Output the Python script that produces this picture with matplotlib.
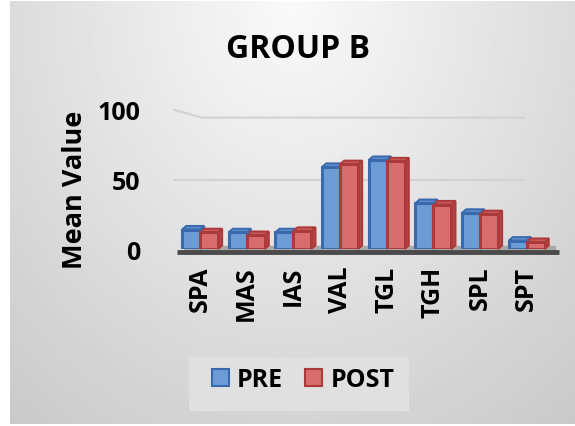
import numpy as np
import matplotlib
matplotlib.use("Agg")
import matplotlib.pyplot as plt
from matplotlib.patches import Polygon, Patch, Rectangle

plt.rcParams.update({"font.family": ["Open Sans", "DejaVu Sans"], "font.weight": "bold"})

categories = ["SPA", "MAS", "IAS", "VAL", "TGL", "TGH", "SPL", "SPT"]
pre = [14, 12, 12, 59, 64, 33, 26, 6]
post = [12, 10, 13, 61, 63, 32, 25, 5]
yticks = [0, 50, 100]

W, H = 575, 427
fig = plt.figure(figsize=(W / 100, H / 100), dpi=100)
fig.patch.set_facecolor("white")

# soft panel gradient behind everything
bg = fig.add_axes([10 / W, 2 / H, 1 - 10 / W, 1 - 4 / H], zorder=-5)
gx, gy = np.meshgrid(np.linspace(0, 1, 300), np.linspace(0, 1, 220))
r = np.sqrt(((gx - 0.5) / 0.5 * 0.8) ** 2 + gy ** 2)
shade = np.clip(250 - 38 * r, 195, 250) / 255
bg.imshow(shade, cmap="gray", vmin=0, vmax=1, aspect="auto", extent=[0, 1, 1, 0])
bg.axis("off")

# value 0 sits on the floor (y=250 px), 100 on the back-wall top (y=111 px)
ax = fig.add_axes([176.7 / W, 1 - 250 / H, 373.3 / W, 139 / H])
ax.set_xlim(-0.5, 7.5)
ax.set_ylim(0, 100)
ax.patch.set_alpha(0)
for s in ax.spines.values():
    s.set_visible(False)

x = np.arange(len(categories))
bw = 0.385
dx, dy = 0.09, 2.6

# gridlines (the top one bends toward the back wall on the left)
ax.plot([-0.55, 6.95], [50, 50], color="#d2d2d2", lw=1.5, zorder=0, clip_on=False)
ax.plot([-0.55, 0.05, 6.95], [100, 94.5, 94.5], color="#d2d2d2", lw=1.5, zorder=0,
        clip_on=False)

# floor
ax.add_patch(Polygon([[-0.35, -0.5], [7.6, -0.5], [7.6, 2.0], [-0.25, 2.0]],
                     closed=True, color="#a9a9a9", zorder=1, clip_on=False))
ax.plot([-0.5, 7.7], [-1.8, -1.8], color="#4a4a4a", lw=3.5, zorder=1,
        clip_on=False, solid_capstyle="butt")


def bars3d(xs, vals, face, edge, top, side):
    for xc, v in zip(xs, vals):
        x0, x1 = xc - bw / 2, xc + bw / 2
        ax.add_patch(Polygon([[x1, 0], [x1 + dx, dy], [x1 + dx, v + dy], [x1, v]],
                             closed=True, fc=side, ec=edge, lw=1.4, zorder=2,
                             clip_on=False))
        ax.add_patch(Polygon([[x0, v], [x0 + dx, v + dy], [x1 + dx, v + dy], [x1, v]],
                             closed=True, fc=top, ec=edge, lw=1.4, zorder=2,
                             clip_on=False))
    ax.bar(xs, vals, width=bw, color=face, edgecolor=edge, linewidth=2.2, zorder=3)


bars3d(x - bw / 2, pre, "#6c9bd6", "#3a6aae", "#5d8cc8", "#4272b2")
bars3d(x + bw / 2, post, "#d96d6d", "#ad3a3a", "#c75a5a", "#b84848")

ax.set_yticks(yticks)
ax.set_yticklabels([str(t) for t in yticks], fontsize=18, fontweight="bold")
ax.set_xticks(x)
ax.set_xticklabels(categories, rotation=90, fontsize=18, fontweight="bold")
ax.tick_params(length=0)
ax.tick_params(axis="y", pad=26)
ax.tick_params(axis="x", pad=12)
ax.set_ylabel("Mean Value", fontsize=19.5, fontweight="bold")
ax.yaxis.set_label_coords(-0.238, 0.43)

fig.text(298 / W, 1 - 49 / H, "GROUP B", ha="center", va="center",
         fontsize=23, fontweight="bold")

# legend sits on its own lighter panel
fig.patches.append(Rectangle((189 / W, 1 - 412 / H), 220 / W, 54 / H,
                             transform=fig.transFigure, fc="#e0e0e0", ec="none",
                             zorder=0))
handles = [Patch(fc="#6c9bd6", ec="#3a6aae", lw=1.5, label="PRE"),
           Patch(fc="#d96d6d", ec="#ad3a3a", lw=1.5, label="POST")]
fig.legend(handles=handles, loc="center", bbox_to_anchor=(303 / W, 1 - 381 / H),
           ncol=2, frameon=False,
           handlelength=0.68, handleheight=0.68, handletextpad=0.32,
           columnspacing=0.9, borderpad=0, borderaxespad=0,
           prop={"weight": "bold", "size": 18})

fig.savefig("out.png", dpi=100)
